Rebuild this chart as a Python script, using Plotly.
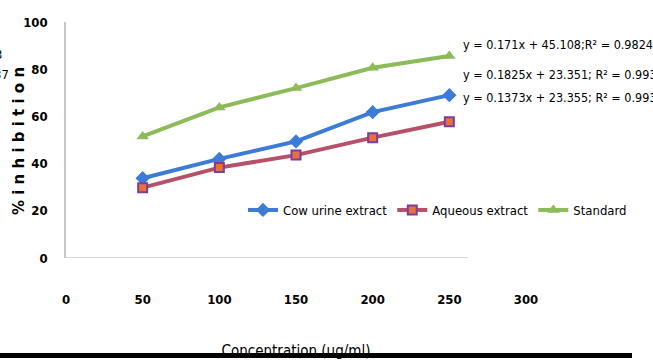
import plotly.graph_objects as go

concentration = [50, 100, 150, 200, 250]
cow_urine = [33.8, 42.0, 49.4, 61.8, 69.0]
aqueous = [29.8, 38.3, 43.6, 51.0, 57.7]
standard = [51.5, 63.8, 72.0, 80.6, 85.6]

equations = ["y = 0.171x + 45.108;R² = 0.9824",
             "y = 0.1825x + 23.351; R² = 0.9937",
             "y = 0.1373x + 23.355; R² = 0.993"]

FONT = "DejaVu Sans Condensed, Roboto Condensed, sans-serif"

# plot area in pixels
L, R, T, B = 66, 526, 22, 258
PW, PH = R - L, B - T


def px_x(p):
    return (p - L) / PW


def px_y(p):
    return (B - p) / PH


def main():
    fig = go.Figure()
    fig.add_trace(go.Scatter(x=concentration, y=cow_urine, name="Cow urine extract", mode="lines+markers",
                             line=dict(color="#3c7bd6", width=4),
                             marker=dict(symbol="diamond", size=11, color="#3c7bd6")))
    fig.add_trace(go.Scatter(x=concentration, y=aqueous, name="Aqueous extract", mode="lines+markers",
                             line=dict(color="#b9506a", width=4),
                             marker=dict(symbol="square", size=9, color="#e8703c",
                                         line=dict(color="#7a3e9d", width=2))))
    fig.add_trace(go.Scatter(x=concentration, y=standard, name="Standard", mode="lines+markers",
                             line=dict(color="#8cbb58", width=4),
                             marker=dict(symbol="triangle-up", size=11, color="#8cbb58")))

    # trendline equations, clipped on the right like the source
    for txt, yp in zip(equations, [45, 74, 97]):
        fig.add_annotation(xref="paper", yref="paper", x=px_x(461), y=px_y(yp), text=txt,
                           xanchor="left", yanchor="middle", showarrow=False,
                           font=dict(family=FONT, size=12.5, color="black"))

    # cut-off text at left edge
    fig.add_annotation(xref="paper", yref="paper", x=px_x(4), y=px_y(55), text="0.993",
                       xanchor="right", yanchor="middle", showarrow=False,
                       font=dict(family=FONT, size=13, color="black"))
    fig.add_annotation(xref="paper", yref="paper", x=px_x(11), y=px_y(74), text="0.9937",
                       xanchor="right", yanchor="middle", showarrow=False,
                       font=dict(family=FONT, size=13, color="black"))

    # y axis title
    fig.add_annotation(xref="paper", yref="paper", x=px_x(19), y=px_y(141), text="<b>% i n h i b i t i o n</b>",
                       textangle=-90, xanchor="center", yanchor="middle", showarrow=False,
                       font=dict(family="DejaVu Sans", size=15, color="black"))

    # short x axis line
    fig.add_shape(type="line", x0=0, x1=262, y0=0, y1=0, line=dict(color="#c8c8c8", width=1.5))
    # black bar at bottom
    fig.add_shape(type="rect", xref="paper", yref="paper", x0=px_x(0), x1=px_x(632),
                  y0=px_y(358), y1=px_y(353), fillcolor="black", line=dict(width=0), layer="above")

    tickfont = dict(family=FONT, size=13, color="black", weight="bold")
    fig.update_layout(
        width=653, height=361,
        margin=dict(l=L, r=653 - R, t=T, b=361 - B, autoexpand=False),
        paper_bgcolor="white", plot_bgcolor="white",
        font=dict(family=FONT, size=13, color="black"),
        showlegend=True,
        legend=dict(orientation="h", x=px_x(243), y=px_y(210), xanchor="left", yanchor="middle",
                    font=dict(family=FONT, size=13), bgcolor="rgba(0,0,0,0)", itemwidth=30),
        xaxis=dict(range=[0, 300], tickvals=[0, 50, 100, 150, 200, 250, 300], showline=False,
                   showgrid=False, zeroline=False, ticks="", ticklabelstandoff=32, automargin=False,
                   tickfont=tickfont,
                   title=dict(text="Concentration (ug/ml)", standoff=39, font=dict(family=FONT, size=15))),
        yaxis=dict(range=[0, 100], tickvals=[0, 20, 40, 60, 80, 100], showline=True, linecolor="#c8c8c8",
                   linewidth=1.5, showgrid=False, zeroline=False, ticks="", ticklabelstandoff=14,
                   automargin=False, tickfont=tickfont),
    )
    fig.write_html("out.html", config={"displayModeBar": False},
                   post_script="document.body.style.margin='0';")


if __name__ == '__main__':
    main()
